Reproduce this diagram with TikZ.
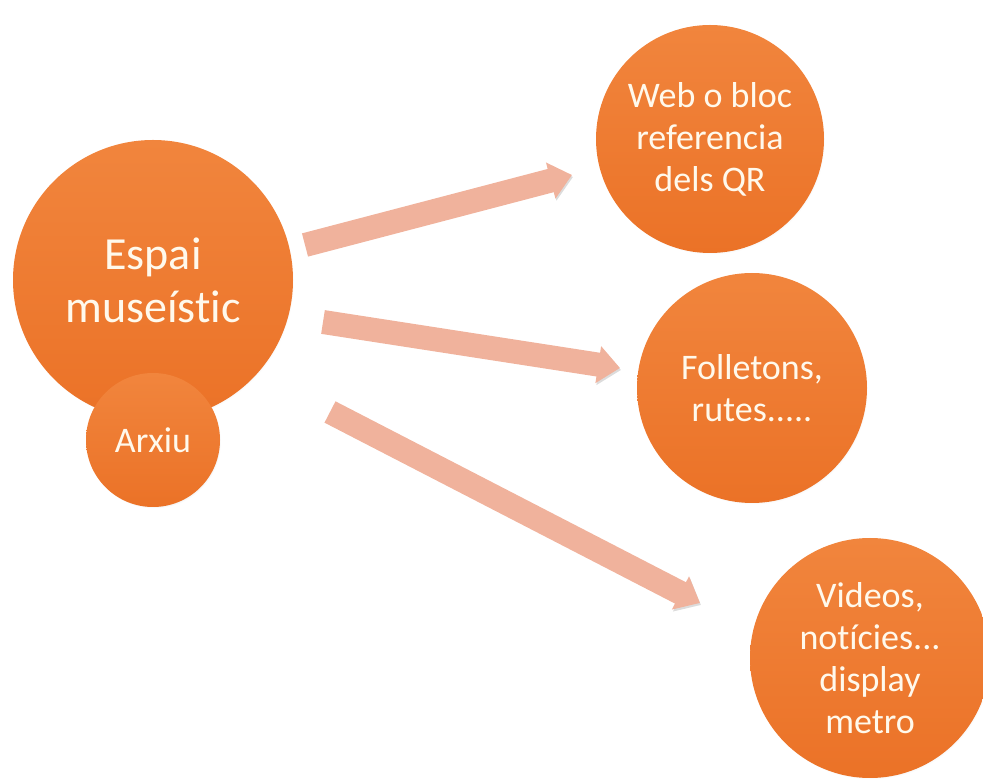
\documentclass[tikz,border=0pt]{standalone}
\usepackage{fontspec}
\setmainfont{Carlito}[Ligatures=NoCommon]
\usetikzlibrary{arrows.meta,calc,shadows}

\definecolor{bubbletop}{HTML}{F1853D}
\definecolor{bubblebot}{HTML}{EB7227}
\definecolor{bubbletext}{HTML}{FFF9EC}
\definecolor{arrowfill}{HTML}{F0B29C}

\tikzstyle{bubble} = [circle, inner sep=0pt, top color=bubbletop, bottom color=bubblebot, text=bubbletext, align=center, circular drop shadow={shadow xshift=1pt, shadow yshift=-1.5pt, opacity=.35, shadow scale=1.0}, font=\fontsize{36}{42}\selectfont]
\tikzstyle{bigbubble} = [bubble, minimum size=280pt, font=\fontsize{46}{53}\selectfont]
\tikzstyle{link} = [draw=arrowfill, line width=24pt, preaction={draw=black!45, opacity=.3, transform canvas={shift={(1pt,-2pt)}}}]

\begin{document}
\begin{tikzpicture}[x=1pt, y=1pt, node distance=160pt, >={Triangle[width=36pt,length=22pt]}]
  \useasboundingbox (0,0) rectangle (983,782);

  \node[bigbubble] (espai) at (153,502) {Espai\\museístic};
  \node[bubble, minimum size=134pt, below of=espai] (arxiu) {Arxiu};

  \node[bubble, minimum size=228pt] (web) at (710,643) {Web o bloc\\referencia\\dels QR};
  \node[bubble, minimum size=230pt] (folletons) at (752,394) {Folletons,\\rutes.....};
  \node[bubble, minimum size=240pt] (videos) at (870,124) {Videos,\\notícies...\\display\\metro};

  \coordinate (web_from) at ($(espai)+(152,35)$);
  \coordinate (web_to) at ($(web)+(-138,-36)$);
  \coordinate (fol_from) at ($(espai)+(170,-42)$);
  \coordinate (fol_to) at ($(folletons)+(-132,20)$);
  \coordinate (vid_from) at ($(espai)+(177,-132)$);
  \coordinate (vid_to) at ($(videos)+(-170,55)$);

  \draw [link,->] (web_from) -- (web_to);
  \draw [link,->] (fol_from) -- (fol_to);
  \draw [link,->] (vid_from) -- (vid_to);

\end{tikzpicture}
\end{document}
